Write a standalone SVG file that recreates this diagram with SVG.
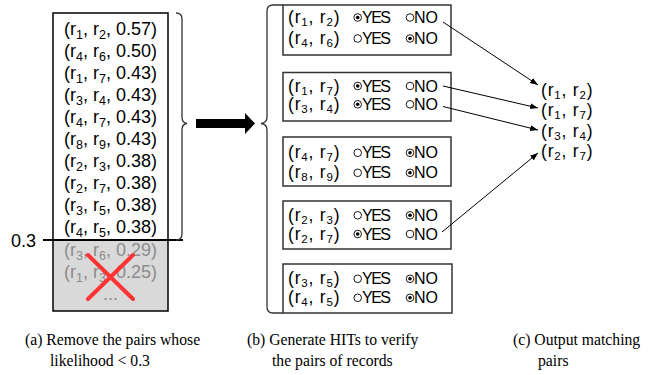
<svg xmlns="http://www.w3.org/2000/svg" width="651" height="375" viewBox="0 0 651 375">
<defs>
<style>
.t{font-family:"Liberation Sans",Arial,sans-serif;font-size:18px;fill:#000}
.g{fill:#8c8c8c}
.h{font-family:"Liberation Sans",Arial,sans-serif;font-size:17.5px;fill:#000;letter-spacing:0.8px}
.yn{font-family:"Liberation Sans",Arial,sans-serif;font-size:16px;fill:#000}
.yes{letter-spacing:-1.5px}
.s{font-size:12.5px}
.hs{font-size:11.5px}
.box{fill:#fff;stroke:#333;stroke-width:1.5}
.rb{fill:none;stroke:#000;stroke-width:0.9}
.dot{fill:#000}
.brace{fill:none;stroke:#333;stroke-width:1.3}
.cap{font-family:"Liberation Serif","Times New Roman",serif;font-size:15.7px;fill:#000}
.conn{stroke:#000;stroke-width:1;fill:none}
</style>
<marker id="ah" markerUnits="userSpaceOnUse" markerWidth="9" markerHeight="7" refX="8" refY="3" orient="auto">
<path d="M0,0 L8,3 L0,6 z" fill="#000"/>
</marker>
</defs>

<g id="candidates">
<rect x="53" y="13" width="115" height="227" fill="#fff"/>
<rect x="53" y="240" width="115" height="71" fill="#d9d9d9"/>
<rect x="53" y="13" width="115" height="298" fill="none" stroke="#000" stroke-width="1.5"/>
<text class="t" x="110.5" y="34.5" text-anchor="middle">(r<tspan class="s" dy="4">1</tspan><tspan dy="-4">, r</tspan><tspan class="s" dy="4">2</tspan><tspan dy="-4">, 0.57)</tspan></text>
<text class="t" x="110.5" y="56.5" text-anchor="middle">(r<tspan class="s" dy="4">4</tspan><tspan dy="-4">, r</tspan><tspan class="s" dy="4">6</tspan><tspan dy="-4">, 0.50)</tspan></text>
<text class="t" x="110.5" y="78.5" text-anchor="middle">(r<tspan class="s" dy="4">1</tspan><tspan dy="-4">, r</tspan><tspan class="s" dy="4">7</tspan><tspan dy="-4">, 0.43)</tspan></text>
<text class="t" x="110.5" y="100.5" text-anchor="middle">(r<tspan class="s" dy="4">3</tspan><tspan dy="-4">, r</tspan><tspan class="s" dy="4">4</tspan><tspan dy="-4">, 0.43)</tspan></text>
<text class="t" x="110.5" y="122.5" text-anchor="middle">(r<tspan class="s" dy="4">4</tspan><tspan dy="-4">, r</tspan><tspan class="s" dy="4">7</tspan><tspan dy="-4">, 0.43)</tspan></text>
<text class="t" x="110.5" y="144.5" text-anchor="middle">(r<tspan class="s" dy="4">8</tspan><tspan dy="-4">, r</tspan><tspan class="s" dy="4">9</tspan><tspan dy="-4">, 0.43)</tspan></text>
<text class="t" x="110.5" y="166.5" text-anchor="middle">(r<tspan class="s" dy="4">2</tspan><tspan dy="-4">, r</tspan><tspan class="s" dy="4">3</tspan><tspan dy="-4">, 0.38)</tspan></text>
<text class="t" x="110.5" y="188.5" text-anchor="middle">(r<tspan class="s" dy="4">2</tspan><tspan dy="-4">, r</tspan><tspan class="s" dy="4">7</tspan><tspan dy="-4">, 0.38)</tspan></text>
<text class="t" x="110.5" y="210.5" text-anchor="middle">(r<tspan class="s" dy="4">3</tspan><tspan dy="-4">, r</tspan><tspan class="s" dy="4">5</tspan><tspan dy="-4">, 0.38)</tspan></text>
<text class="t" x="110.5" y="232.5" text-anchor="middle">(r<tspan class="s" dy="4">4</tspan><tspan dy="-4">, r</tspan><tspan class="s" dy="4">5</tspan><tspan dy="-4">, 0.38)</tspan></text>
<text class="t g" x="110.5" y="256" text-anchor="middle">(r<tspan class="s" dy="4">3</tspan><tspan dy="-4">, r</tspan><tspan class="s" dy="4">6</tspan><tspan dy="-4">, 0.29)</tspan></text>
<text class="t g" x="110.5" y="278" text-anchor="middle">(r<tspan class="s" dy="4">1</tspan><tspan dy="-4">, r</tspan><tspan class="s" dy="4">3</tspan><tspan dy="-4">, 0.25)</tspan></text>
<text class="t g" x="110.5" y="299.5" text-anchor="middle">...</text>
<path d="M88,255 L133,299 M133,255 L88,299" stroke="#ff3333" stroke-width="4" stroke-linecap="round" fill="none"/>
</g>

<g id="threshold">
<line x1="43" y1="240" x2="183" y2="240" stroke="#000" stroke-width="2"/>
<text class="t" x="11" y="246.5" font-size="17.5">0.3</text>
</g>

<g id="brace-left">
<path class="brace" d="M176,13 Q182,13 182,19 L182,117 Q182,123 187,123.5 Q182,124 182,130 L182,234 Q182,240 176,240"/>
</g>

<g id="big-arrow">
<polygon points="196,119 245,119 245,113 255,123.5 245,134 245,128 196,128" fill="#000"/>
</g>

<g id="brace-right">
<path class="brace" d="M283,5 L273,5 Q267,5 267,11 L267,117 Q267,123 261,123.5 Q267,124 267,130 L267,307 Q267,313 273,313 L283,313"/>
</g>

<g id="hit1">
<rect class="box" x="283" y="5" width="168" height="50"/>
<text class="h" x="288" y="23">(r<tspan class="hs" dy="3">1</tspan><tspan dy="-3">, r</tspan><tspan class="hs" dy="3">2</tspan><tspan dy="-3">)</tspan></text>
<circle class="rb" cx="357.7" cy="17.5" r="3.8"/><circle class="dot" cx="357.7" cy="17.5" r="1.8"/>
<text class="yn yes" x="362" y="23">YES</text>
<circle class="rb" cx="410" cy="17.5" r="3.8"/>
<text class="yn" x="414" y="23">NO</text>
<text class="h" x="288" y="44">(r<tspan class="hs" dy="3">4</tspan><tspan dy="-3">, r</tspan><tspan class="hs" dy="3">6</tspan><tspan dy="-3">)</tspan></text>
<circle class="rb" cx="357.7" cy="38.5" r="3.8"/>
<text class="yn yes" x="362" y="44">YES</text>
<circle class="rb" cx="410" cy="38.5" r="3.8"/><circle class="dot" cx="410" cy="38.5" r="1.8"/>
<text class="yn" x="414" y="44">NO</text>
</g>

<g id="hit2">
<rect class="box" x="283" y="72.5" width="168" height="48.5"/>
<text class="h" x="288" y="91.5">(r<tspan class="hs" dy="3">1</tspan><tspan dy="-3">, r</tspan><tspan class="hs" dy="3">7</tspan><tspan dy="-3">)</tspan></text>
<circle class="rb" cx="357.7" cy="86" r="3.8"/><circle class="dot" cx="357.7" cy="86" r="1.8"/>
<text class="yn yes" x="362" y="91.5">YES</text>
<circle class="rb" cx="410" cy="86" r="3.8"/>
<text class="yn" x="414" y="91.5">NO</text>
<text class="h" x="288" y="109.8">(r<tspan class="hs" dy="3">3</tspan><tspan dy="-3">, r</tspan><tspan class="hs" dy="3">4</tspan><tspan dy="-3">)</tspan></text>
<circle class="rb" cx="357.7" cy="104.3" r="3.8"/><circle class="dot" cx="357.7" cy="104.3" r="1.8"/>
<text class="yn yes" x="362" y="109.8">YES</text>
<circle class="rb" cx="410" cy="104.3" r="3.8"/>
<text class="yn" x="414" y="109.8">NO</text>
</g>

<g id="hit3">
<rect class="box" x="283" y="137" width="168" height="49"/>
<text class="h" x="288" y="158.3">(r<tspan class="hs" dy="3">4</tspan><tspan dy="-3">, r</tspan><tspan class="hs" dy="3">7</tspan><tspan dy="-3">)</tspan></text>
<circle class="rb" cx="357.7" cy="152.8" r="3.8"/>
<text class="yn yes" x="362" y="158.3">YES</text>
<circle class="rb" cx="410" cy="152.8" r="3.8"/><circle class="dot" cx="410" cy="152.8" r="1.8"/>
<text class="yn" x="414" y="158.3">NO</text>
<text class="h" x="288" y="178.3">(r<tspan class="hs" dy="3">8</tspan><tspan dy="-3">, r</tspan><tspan class="hs" dy="3">9</tspan><tspan dy="-3">)</tspan></text>
<circle class="rb" cx="357.7" cy="172.8" r="3.8"/>
<text class="yn yes" x="362" y="178.3">YES</text>
<circle class="rb" cx="410" cy="172.8" r="3.8"/><circle class="dot" cx="410" cy="172.8" r="1.8"/>
<text class="yn" x="414" y="178.3">NO</text>
</g>

<g id="hit4">
<rect class="box" x="283" y="201" width="168" height="48"/>
<text class="h" x="288" y="220.8">(r<tspan class="hs" dy="3">2</tspan><tspan dy="-3">, r</tspan><tspan class="hs" dy="3">3</tspan><tspan dy="-3">)</tspan></text>
<circle class="rb" cx="357.7" cy="215.3" r="3.8"/>
<text class="yn yes" x="362" y="220.8">YES</text>
<circle class="rb" cx="410" cy="215.3" r="3.8"/><circle class="dot" cx="410" cy="215.3" r="1.8"/>
<text class="yn" x="414" y="220.8">NO</text>
<text class="h" x="288" y="239.5">(r<tspan class="hs" dy="3">2</tspan><tspan dy="-3">, r</tspan><tspan class="hs" dy="3">7</tspan><tspan dy="-3">)</tspan></text>
<circle class="rb" cx="357.7" cy="234" r="3.8"/><circle class="dot" cx="357.7" cy="234" r="1.8"/>
<text class="yn yes" x="362" y="239.5">YES</text>
<circle class="rb" cx="410" cy="234" r="3.8"/>
<text class="yn" x="414" y="239.5">NO</text>
</g>

<g id="hit5">
<rect class="box" x="283" y="264" width="169" height="49"/>
<text class="h" x="288" y="284.3">(r<tspan class="hs" dy="3">3</tspan><tspan dy="-3">, r</tspan><tspan class="hs" dy="3">5</tspan><tspan dy="-3">)</tspan></text>
<circle class="rb" cx="357.7" cy="278.8" r="3.8"/>
<text class="yn yes" x="362" y="284.3">YES</text>
<circle class="rb" cx="410" cy="278.8" r="3.8"/><circle class="dot" cx="410" cy="278.8" r="1.8"/>
<text class="yn" x="414" y="284.3">NO</text>
<text class="h" x="288" y="303.3">(r<tspan class="hs" dy="3">4</tspan><tspan dy="-3">, r</tspan><tspan class="hs" dy="3">5</tspan><tspan dy="-3">)</tspan></text>
<circle class="rb" cx="357.7" cy="297.8" r="3.8"/>
<text class="yn yes" x="362" y="303.3">YES</text>
<circle class="rb" cx="410" cy="297.8" r="3.8"/><circle class="dot" cx="410" cy="297.8" r="1.8"/>
<text class="yn" x="414" y="303.3">NO</text>
</g>

<g id="output">
<text class="h" x="541" y="95.6" letter-spacing="0">(r<tspan class="hs" dy="3">1</tspan><tspan dy="-3">, r</tspan><tspan class="hs" dy="3">2</tspan><tspan dy="-3">)</tspan></text>
<text class="h" x="541" y="116" letter-spacing="0">(r<tspan class="hs" dy="3">1</tspan><tspan dy="-3">, r</tspan><tspan class="hs" dy="3">7</tspan><tspan dy="-3">)</tspan></text>
<text class="h" x="541" y="136.5" letter-spacing="0">(r<tspan class="hs" dy="3">3</tspan><tspan dy="-3">, r</tspan><tspan class="hs" dy="3">4</tspan><tspan dy="-3">)</tspan></text>
<text class="h" x="541" y="156.5" letter-spacing="0">(r<tspan class="hs" dy="3">2</tspan><tspan dy="-3">, r</tspan><tspan class="hs" dy="3">7</tspan><tspan dy="-3">)</tspan></text>
</g>

<g id="connectors">
<line class="conn" x1="443" y1="22" x2="538" y2="85" marker-end="url(#ah)"/>
<line class="conn" x1="443" y1="86" x2="538" y2="108" marker-end="url(#ah)"/>
<line class="conn" x1="443" y1="106.5" x2="538" y2="130" marker-end="url(#ah)"/>
<line class="conn" x1="442" y1="232" x2="538" y2="153" marker-end="url(#ah)"/>
</g>

<g id="captions">
<text class="cap" x="25" y="345">(a) Remove the pairs whose</text>
<text class="cap" x="50" y="366">likelihood &lt; 0.3</text>
<text class="cap" x="247" y="345">(b) Generate HITs to verify</text>
<text class="cap" x="272" y="366">the pairs of records</text>
<text class="cap" x="513" y="345">(c) Output matching</text>
<text class="cap" x="538" y="366">pairs</text>
</g>
</svg>
